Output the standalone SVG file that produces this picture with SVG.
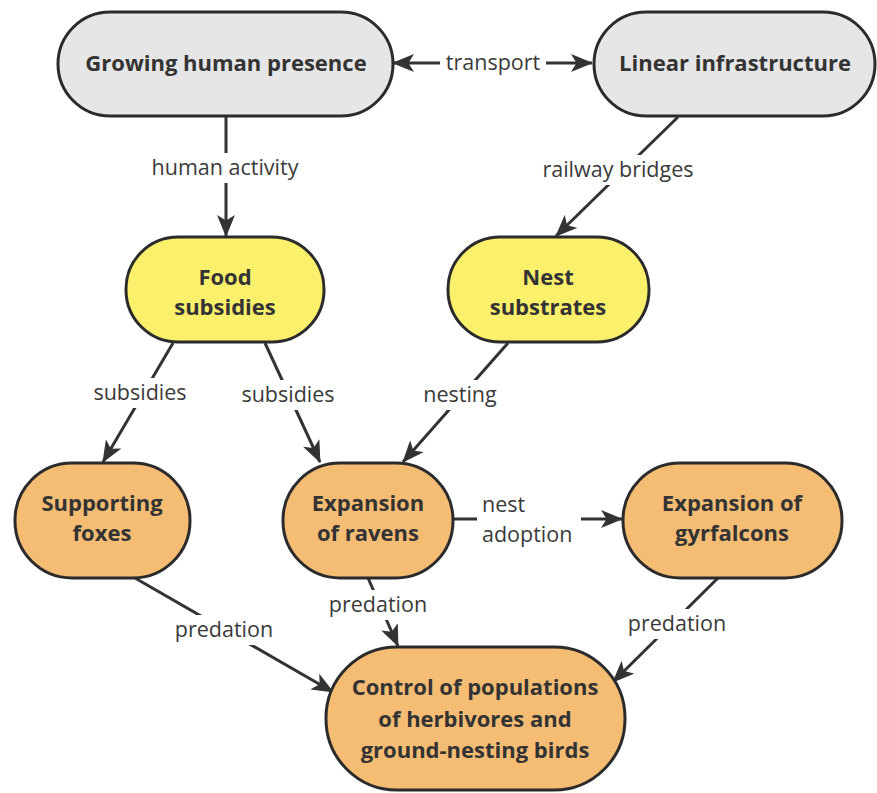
<svg xmlns="http://www.w3.org/2000/svg" width="877" height="793" viewBox="0 0 877 793">
<style>
.n{stroke:#2b2b2b;stroke-width:3}
.g{fill:#e6e6e6}.y{fill:#faf06b}.o{fill:#f4bd73}
.t{font-family:"Open Sans","DejaVu Sans",sans-serif;font-weight:bold;font-size:22px;fill:#333;text-anchor:middle}
.l{font-family:"Open Sans","DejaVu Sans",sans-serif;font-size:21.5px;fill:#3a3a3a;text-anchor:middle}
.c{stroke:#333;stroke-width:3;fill:none;marker-end:url(#a)}
.bg{fill:#fff}
</style>
<defs>
<marker id="a" viewBox="0 0 22 18" refX="21" refY="9" markerWidth="22" markerHeight="18" markerUnits="userSpaceOnUse" orient="auto-start-reverse">
<path d="M0,0 L22,9 L0,18 L5.5,9 z" fill="#333"/>
</marker>
</defs>
<rect width="877" height="793" fill="#fff"/>
<g id="connectors">
<line class="c" x1="393" y1="63" x2="592" y2="63" style="marker-start:url(#a)"/>
<line class="c" x1="226" y1="117" x2="226" y2="236"/>
<line class="c" x1="678" y1="117" x2="556" y2="236"/>
<line class="c" x1="173" y1="343" x2="103" y2="462"/>
<line class="c" x1="265" y1="343" x2="320" y2="462"/>
<line class="c" x1="508" y1="343" x2="403" y2="462"/>
<line class="c" x1="453" y1="519" x2="622" y2="519"/>
<line class="c" x1="135" y1="578" x2="333" y2="692"/>
<line class="c" x1="368" y1="578" x2="398" y2="646"/>
<line class="c" x1="718" y1="578" x2="613" y2="682"/>
<rect class="bg" x="440" y="48" width="106" height="30"/>
<text class="l" x="493" y="70">transport</text>
<rect class="bg" x="144" y="153" width="164" height="30"/>
<text class="l" x="225" y="175">human activity</text>
<rect class="bg" x="534" y="155" width="168" height="30"/>
<text class="l" x="618" y="177">railway bridges</text>
<rect class="bg" x="88" y="378" width="104" height="30"/>
<text class="l" x="140" y="400">subsidies</text>
<rect class="bg" x="236" y="380" width="104" height="30"/>
<text class="l" x="288" y="402">subsidies</text>
<rect class="bg" x="417" y="380" width="86" height="30"/>
<text class="l" x="460" y="402">nesting</text>
<rect class="bg" x="477" y="488" width="104" height="60"/>
<text class="l" x="482" y="512" style="text-anchor:start">nest</text>
<text class="l" x="482" y="542" style="text-anchor:start">adoption</text>
<rect class="bg" x="171" y="615" width="106" height="30"/>
<text class="l" x="224" y="637">predation</text>
<rect class="bg" x="325" y="590" width="106" height="30"/>
<text class="l" x="378" y="612">predation</text>
<rect class="bg" x="624" y="609" width="106" height="30"/>
<text class="l" x="677" y="631">predation</text>
</g>
<g id="growing">
<rect class="n g" x="58" y="12" width="335" height="104" rx="52"/>
<text class="t" x="226" y="71">Growing human presence</text>
</g>
<g id="linear">
<rect class="n g" x="594" y="12" width="281" height="104" rx="52"/>
<text class="t" x="735" y="71">Linear infrastructure</text>
</g>
<g id="food">
<rect class="n y" x="126" y="237" width="198" height="105" rx="52"/>
<text class="t" x="225" y="285">Food</text>
<text class="t" x="225" y="315">subsidies</text>
</g>
<g id="nest">
<rect class="n y" x="448" y="237" width="201" height="105" rx="52"/>
<text class="t" x="548" y="285">Nest</text>
<text class="t" x="548" y="315">substrates</text>
</g>
<g id="foxes">
<rect class="n o" x="15" y="463" width="175" height="115" rx="57"/>
<text class="t" x="102" y="511">Supporting</text>
<text class="t" x="102" y="541">foxes</text>
</g>
<g id="ravens">
<rect class="n o" x="283" y="463" width="170" height="115" rx="57"/>
<text class="t" x="368" y="511">Expansion</text>
<text class="t" x="368" y="541">of ravens</text>
</g>
<g id="gyrfalcons">
<rect class="n o" x="623" y="463" width="219" height="115" rx="57"/>
<text class="t" x="732" y="511">Expansion of</text>
<text class="t" x="732" y="541">gyrfalcons</text>
</g>
<g id="control">
<rect class="n o" x="326" y="647" width="299" height="143" rx="71"/>
<text class="t" x="475" y="695">Control of populations</text>
<text class="t" x="475" y="727">of herbivores and</text>
<text class="t" x="475" y="758">ground-nesting birds</text>
</g>
</svg>
